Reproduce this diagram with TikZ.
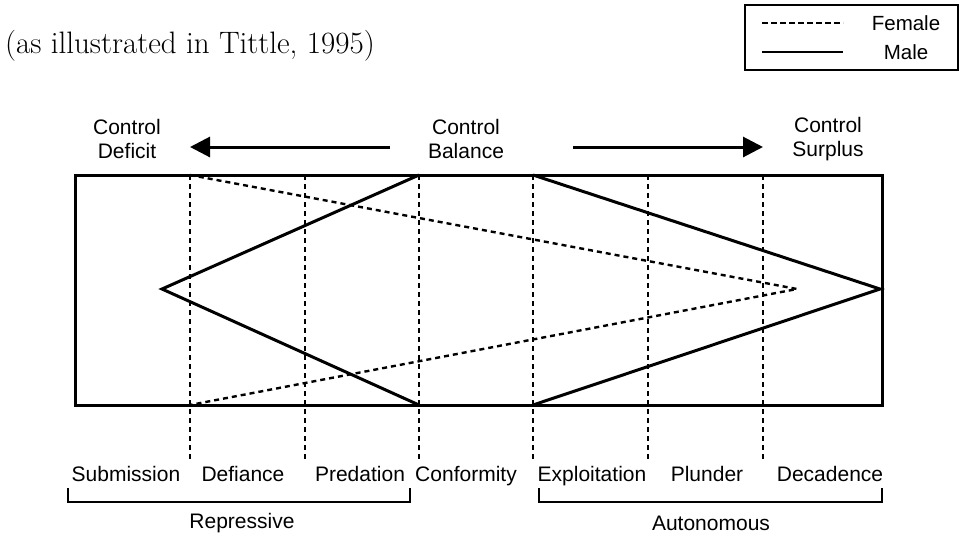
\documentclass[tikz,border=0pt]{standalone}
\usepackage{fontspec}
\setsansfont{Liberation Sans}
\usetikzlibrary{arrows.meta,positioning}

\begin{document}
\begin{tikzpicture}[x=1pt, y=-1pt, >={Triangle[length=20pt,width=20pt]},
  font=\sffamily\fontsize{21}{24}\selectfont,
  male/.style={line width=3pt, line join=miter},
  female/.style={line width=2.4pt, dash pattern=on 5pt off 4pt},
  divider/.style={line width=2.8pt, dash pattern=on 5pt off 4pt},
  lbl/.style={inner sep=0pt, anchor=base},
  head/.style={inner sep=0pt, align=center}]
  \useasboundingbox (0,0) rectangle (962,536);

  % Title
  \node[inner sep=0pt, anchor=base west, font=\rmfamily\fontsize{31}{34}\selectfont] (title) at (5,53) {(as illustrated in Tittle, 1995)};

  % Legend
  \draw[line width=2pt] (745,5) rectangle (958,70);
  \coordinate (fa) at (762,23); \coordinate (fb) at (843,23);
  \coordinate (ma) at (762,52); \coordinate (mb) at (843,52);
  \draw[line width=2.5pt, dash pattern=on 6pt off 3pt] (fa) -- (fb);
  \draw[line width=2.5pt] (ma) -- (mb);
  \node[inner sep=0pt, font=\sffamily\fontsize{20.5}{24}\selectfont] (lf) at (906,23) {Female};
  \node[inner sep=0pt, font=\sffamily\fontsize{20.5}{24}\selectfont] (lm) at (906,52) {Male};

  % Headings
  \node[head] (deficit) at (127,139) {Control\\Deficit};
  \node[head] (balance) at (466,139) {Control\\Balance};
  \node[head] (surplus) at (828,139) {Control\\Surplus};
  \coordinate (al) at (390,147); \coordinate (alt) at (190,147);
  \coordinate (ar) at (573,147); \coordinate (art) at (763,147);
  \draw[->, line width=3pt] (al) -- (alt);
  \draw[->, line width=3pt] (ar) -- (art);

  % Dividers
  \foreach \i/\x in {1/190,2/305,3/419,4/533,5/648,6/763} {
    \coordinate (t\i) at (\x,175);
    \coordinate (d\i) at (\x,405);
    \coordinate (e\i) at (\x,460);
    \draw[divider] (t\i) -- (e\i);
  }

  % Frame
  \draw[line width=3pt] (75,175) rectangle (882,405);

  % Curves
  \coordinate (mL) at (162,289);
  \coordinate (mR) at (880,289);
  \coordinate (fR) at (797,289);
  \draw[male] (t3) -- (mL) -- (d3);
  \draw[male] (t4) -- (mR) -- (d4);
  \draw[female] (t1) -- (fR) -- (d1);

  % Types
  \node[lbl] (sub) at (126,481) {Submission};
  \node[lbl] (def) at (243,481) {Defiance};
  \node[lbl] (pred) at (360,481) {Predation};
  \node[lbl] (conf) at (466,481) {Conformity};
  \node[lbl] (expl) at (592,481) {Exploitation};
  \node[lbl] (plun) at (707,481) {Plunder};
  \node[lbl] (deca) at (830,481) {Decadence};

  % Brackets
  \coordinate (ra) at (68,488); \coordinate (rb) at (410,488);
  \coordinate (aa) at (539,488); \coordinate (ab) at (882,488);
  \draw[line width=2.5pt] (ra) -- ++(0,14) -| (rb);
  \draw[line width=2.5pt] (aa) -- ++(0,14) -| (ab);
  \node[inner sep=0pt] (rep) at (242,523) {Repressive};
  \node[inner sep=0pt] (aut) at (711,523) {Autonomous};
\end{tikzpicture}
\end{document}
